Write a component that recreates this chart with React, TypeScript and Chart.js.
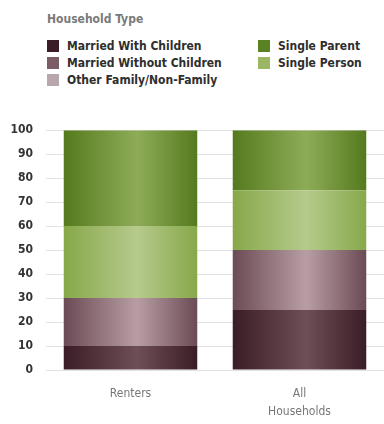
import React, { useEffect, useRef } from "react";
import { Chart, registerables } from "chart.js";
Chart.register(...registerables);

const categories: (string | string[])[] = ["Renters", ["All", "Households"]];
const marriedWithChildren = [10, 25];
const marriedWithoutChildren = [20, 25];
const otherFamily = [0, 0];
const singlePerson = [30, 25];
const singleParent = [40, 25];
const yTicks = [0, 10, 20, 30, 40, 50, 60, 70, 80, 90, 100];

const series = [
  { label: "Married With Children", data: marriedWithChildren, edge: "#3a1d26", mid: "#6e4e57", swatch: "#3a1d26" },
  { label: "Married Without Children", data: marriedWithoutChildren, edge: "#6b4b55", mid: "#b89ea4", swatch: "#7b5d66" },
  { label: "Other Family/Non-Family", data: otherFamily, edge: "#9c8990", mid: "#c9b9be", swatch: "#b7a6ab" },
  { label: "Single Person", data: singlePerson, edge: "#87a84a", mid: "#b6ca8c", swatch: "#9bb763" },
  { label: "Single Parent", data: singleParent, edge: "#557a1d", mid: "#8eac58", swatch: "#5b8125" },
];

const CAT_PCT = 1;
const BAR_PCT = 0.79;

export default function App() {
  const ref = useRef<HTMLCanvasElement>(null);
  useEffect(() => {
    if (!ref.current) return;
    const makeBg = (edge: string, mid: string) => (ctx: any) => {
      const chart = ctx.chart;
      const x = chart.scales?.x;
      if (!chart.chartArea || !x || ctx.dataIndex === undefined) return edge;
      const cx = x.getPixelForValue(ctx.dataIndex);
      const w = (x.width / categories.length) * CAT_PCT * BAR_PCT;
      const g = chart.ctx.createLinearGradient(cx - w / 2, 0, cx + w / 2, 0);
      g.addColorStop(0, edge);
      g.addColorStop(0.55, mid);
      g.addColorStop(1, edge);
      return g;
    };
    const chart = new Chart(ref.current, {
      type: "bar",
      data: {
        labels: categories as any,
        datasets: series.map((s) => ({
          label: s.label,
          data: s.data,
          backgroundColor: makeBg(s.edge, s.mid) as any,
          borderWidth: 0,
          categoryPercentage: CAT_PCT,
          barPercentage: BAR_PCT,
        })),
      },
      options: {
        animation: false,
        responsive: false,
        maintainAspectRatio: false,
        layout: { padding: { top: 20, right: 0, left: 0, bottom: 5 } },
        plugins: { legend: { display: false }, tooltip: { enabled: false } },
        scales: {
          x: {
            stacked: true,
            grid: { display: false },
            border: { display: false },
            afterFit: (s: any) => { s.height = 49; },
            ticks: {
              color: "#777",
              padding: 7,
              font: { family: "DejaVu Sans Condensed", size: 12, lineHeight: 1.5 },
            },
          },
          y: {
            stacked: true,
            min: 0,
            max: 100,
            afterFit: (s: any) => { s.width = 46; },
            afterBuildTicks: (s: any) => { s.ticks = yTicks.map((v) => ({ value: v })); },
            grid: { color: "#e2e2e2", drawTicks: false, lineWidth: 1 },
            border: { display: false },
            ticks: {
              color: "#333",
              padding: 13,
              font: { family: "DejaVu Sans Condensed", size: 12, weight: "bold" },
            },
          },
        },
      },
    });
    return () => chart.destroy();
  }, []);

  const legendLeft = series.slice(0, 3);
  const legendRight = [series[4], series[3]];
  const item = (s: any) => (
    <div key={s.label} style={{ display: "flex", alignItems: "center", height: 17 }}>
      <div style={{ width: 12, height: 12, background: s.swatch, marginRight: 8 }} />
      <span style={{ fontSize: 12, fontWeight: "bold", color: "#2e2e2e", whiteSpace: "nowrap" }}>{s.label}</span>
    </div>
  );

  return (
    <div style={{ position: "fixed", left: 0, top: 0, width: 384, height: 424, background: "#fff", fontFamily: "'DejaVu Sans Condensed', sans-serif" }}>
      <div style={{ position: "absolute", left: 47, top: 12, fontSize: 12, fontWeight: "bold", color: "#7a7a7a" }}>Household Type</div>
      <div style={{ position: "absolute", left: 47, top: 37 }}>{legendLeft.map(item)}</div>
      <div style={{ position: "absolute", left: 258, top: 37 }}>{legendRight.map(item)}</div>
      <canvas ref={ref} width={384} height={314} style={{ position: "absolute", left: 0, top: 110 }} />
    </div>
  );
}
